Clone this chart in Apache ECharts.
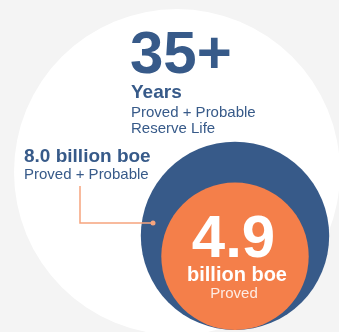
<!DOCTYPE html>
<html>
<head>
<meta charset="utf-8">
<script src="https://cdn.jsdelivr.net/npm/echarts@6/dist/echarts.min.js"></script>
<style>
  html, body { margin: 0; padding: 0; background: #f4f4f4; }
  #chart { width: 339px; height: 332px; }
</style>
</head>
<body>
<div id="chart"></div>
<script>
// ---- Data ----
const reserveCategories = ['Proved + Probable', 'Proved'];
const reserveValues = [8.0, 4.9];               // billion boe
const reserveValueLabels = ['8.0 billion boe', '4.9'];
const reserveLifeValue = '35+';
const reserveLifeLines = ['Years', 'Proved + Probable', 'Reserve Life'];
const provedLines = ['billion boe', 'Proved'];

// ---- Layout / style (not data) ----
const W = 339, H = 332;
const BLUE = '#375a89', ORANGE = '#f47f4a', LINE = '#f6a47d';
const FONT = '"Liberation Sans", Arial, Helvetica, sans-serif';
const bubbleScale = 33.3;        // radius = scale * sqrt(value)
const bubbleCx = 235, bubbleBase = 330;
const bgCircle = { cx: 177, cy: 172, d: 326 };

const bubbleColors = [BLUE, ORANGE];
const bubbleData = reserveValues.map((v, i) => {
  const r = bubbleScale * Math.sqrt(v);
  return {
    name: reserveCategories[i],
    value: [bubbleCx, bubbleBase - r],
    symbolSize: 2 * r,
    itemStyle: { color: bubbleColors[i], opacity: 1 }
  };
});

const chart = echarts.init(document.getElementById('chart'), null, { renderer: 'canvas' });

function txt(text, x, y, size, weight, fill, align) {
  return {
    type: 'text', x: x, y: y, z: 100,
    style: {
      text: text, fill: fill, align: align || 'left', verticalAlign: 'middle',
      font: (weight || 'normal') + ' ' + size + 'px ' + FONT
    }
  };
}

// connector from label to blue bubble
const connector = [[80, 186], [80, 223], [153, 223]];

chart.setOption({
  backgroundColor: '#f4f4f4',
  animation: false,
  grid: { left: 0, right: 0, top: 0, bottom: 0 },
  xAxis: { type: 'value', min: 0, max: W, show: false },
  yAxis: { type: 'value', min: 0, max: H, inverse: true, show: false },
  series: [
    {
      type: 'scatter', silent: true, symbol: 'circle',
      data: [{ value: [bgCircle.cx, bgCircle.cy], symbolSize: bgCircle.d,
               itemStyle: { color: '#ffffff', opacity: 1 } }],
      z: 1
    },
    {
      type: 'scatter', silent: true, symbol: 'circle',
      data: bubbleData, z: 2
    }
  ],
  graphic: [
    txt(reserveLifeValue, 130, 56.4, 60, 'bold', BLUE),
    txt(reserveLifeLines[0], 131, 93.1, 19, 'bold', BLUE),
    txt(reserveLifeLines[1], 131, 112.4, 15, 'normal', BLUE),
    txt(reserveLifeLines[2], 131, 128.6, 15, 'normal', BLUE),
    txt(reserveValueLabels[0], 24, 157.1, 19, 'bold', BLUE),
    txt(reserveCategories[0], 24, 174.8, 15, 'normal', BLUE),
    txt(reserveValueLabels[1], 233.5, 240.4, 60, 'bold', '#ffffff', 'center'),
    txt(provedLines[0], 237, 275.8, 20, 'bold', '#ffffff', 'center'),
    txt(provedLines[1], 234, 294.3, 15, 'normal', 'rgba(255,255,255,0.85)', 'center'),
    {
      type: 'polyline', z: 90, silent: true,
      shape: { points: connector },
      style: { stroke: LINE, lineWidth: 1.5, fill: null }
    },
    {
      type: 'circle', z: 91, silent: true,
      shape: { cx: connector[2][0], cy: connector[2][1], r: 2.5 },
      style: { fill: LINE }
    }
  ]
});
</script>
</body>
</html>
